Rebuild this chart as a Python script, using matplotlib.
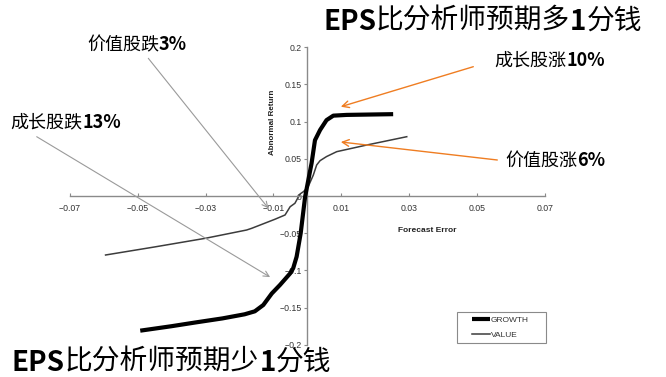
import matplotlib
matplotlib.use('Agg')
import matplotlib.pyplot as plt
from matplotlib.patches import Rectangle

# data
growth_x = [-0.0492, -0.040, -0.033, -0.025, -0.0185, -0.0155, -0.013, -0.0105,
            -0.0081, -0.0051, -0.0042, -0.0032, -0.002, -0.0007, 0.0001, 0.0012,
            0.0022, 0.0037, 0.0056, 0.0076, 0.0115, 0.0252]
growth_y = [-0.181, -0.175, -0.170, -0.1645, -0.159, -0.155, -0.1465, -0.131,
            -0.1196, -0.104, -0.097, -0.0816, -0.050, -0.001, 0.018, 0.044,
            0.075, 0.0887, 0.102, 0.108, 0.109, 0.110]
value_x = [-0.0594, -0.045, -0.0301, -0.0179, -0.0164, -0.0096, -0.0066, -0.0051,
           -0.0037, -0.0029, -0.0022, -0.0012, -0.0002, 0.0002, 0.0017, 0.0027,
           0.0037, 0.0056, 0.0086, 0.0174, 0.0292]
value_y = [-0.0793, -0.0685, -0.0569, -0.0457, -0.0434, -0.0313, -0.0255, -0.0144,
           -0.0098, -0.0031, 0.0027, 0.0058, 0.0103, 0.0125, 0.028, 0.0417,
           0.0475, 0.053, 0.0596, 0.0685, 0.0797]

xticks = [-0.07, -0.05, -0.03, -0.01, 0.01, 0.03, 0.05, 0.07]
xtick_labels = ['\u22120.07', '\u22120.05', '\u22120.03', '\u22120.01', '0.01', '0.03', '0.05', '0.07']
yticks = [-0.2, -0.15, -0.1, -0.05, 0, 0.05, 0.1, 0.15, 0.2]
ytick_labels = ['\u22120.2', '\u22120.15', '\u22120.1', '\u22120.05', '0', '0.05', '0.1', '0.15', '0.2']

CJK = ['Noto Sans CJK SC', 'DejaVu Sans']
W, H = 666, 377

fig = plt.figure(figsize=(6.66, 3.77), dpi=100)
ax = fig.add_axes([0.1044, 0.0854, 0.819 - 0.1044, 0.8748 - 0.0854])

ax.plot(growth_x, growth_y, color='black', lw=3, solid_capstyle='butt', label='GROWTH', zorder=3)
ax.plot(value_x, value_y, color='#3c3c3c', lw=1.1, label='VALUE', zorder=2)

ax.set_xlim(-0.07, 0.07)
ax.set_ylim(-0.2, 0.2)
for s in ['top', 'right']:
    ax.spines[s].set_visible(False)
for s in ['left', 'bottom']:
    ax.spines[s].set_position('zero')
    ax.spines[s].set_color('#8a8a8a')
    ax.spines[s].set_linewidth(1.0)
ax.set_xticks(xticks)
ax.set_xticklabels(xtick_labels)
ax.set_yticks(yticks)
ax.set_yticklabels(ytick_labels)
ax.tick_params(axis='x', direction='in', length=2, pad=6, labelsize=6.3, colors='#8a8a8a', labelcolor='#333333')
ax.tick_params(axis='y', direction='out', length=2, pad=2, labelsize=6.3, colors='#8a8a8a', labelcolor='#333333')
for t in ax.get_xticklabels() + ax.get_yticklabels():
    t.set_family('Liberation Sans')

fig.text(427 / W, 1 - 231 / H, 'Forecast Error', fontsize=6, weight='bold',
         family='Liberation Sans', ha='center', va='center', color='#222222')
fig.text(273 / W, 1 - 122.5 / H, 'Abnormal Return', fontsize=5.8, weight='bold',
         family='Liberation Sans', ha='center', va='center', rotation=90, color='#222222')

# legend with a hand-drawn frame
fig.patches.append(Rectangle((457 / W, 1 - 343.3 / H), 89 / W, 31.6 / H,
                             transform=fig.transFigure, fill=False,
                             edgecolor='#8a8a8a', lw=0.8))
leg = ax.legend(loc='center left', bbox_to_anchor=(471.7 / W, 1 - 327.5 / H),
                bbox_transform=fig.transFigure, frameon=False, borderpad=0,
                borderaxespad=0, handlelength=2.2, handletextpad=0.1,
                labelspacing=0.85, prop={'family': 'Liberation Sans', 'size': 6})
for t in leg.get_texts():
    t.set_color('#333333')


def chain(x, y, pieces, size):
    # pieces of (text, weight) set one after another on one line
    last = fig.text(x, y, pieces[0][0], fontsize=size, weight=pieces[0][1],
                    family=CJK, ha='left', va='center', color='black')
    for txt, wt in pieces[1:]:
        last = ax.annotate(txt, xy=(1, 0), xycoords=last, fontsize=size, weight=wt,
                           family=CJK, ha='left', va='bottom', color='black',
                           annotation_clip=False)


chain(323 / W, 1 - 21.7 / H, [('EPS', 'bold'), ('比分析师预期多', 'normal'), ('1', 'bold'), ('分钱', 'normal')], 20)
chain(12 / W, 1 - 363 / H, [('EPS', 'bold'), ('比分析师预期少', 'normal'), ('1', 'bold'), ('分钱', 'normal')], 20)
chain(87 / W, 1 - 45 / H, [('价值股跌', 'normal'), ('3%', 'bold')], 13)
chain(10 / W, 1 - 122.7 / H, [('成长股跌', 'normal'), ('13%', 'bold')], 13)
chain(494 / W, 1 - 60.7 / H, [('成长股涨', 'normal'), ('10%', 'bold')], 13)
chain(505 / W, 1 - 160.7 / H, [('价值股涨', 'normal'), ('6%', 'bold')], 13)

# arrows: tip in data units, tail in figure pixels
gray = dict(arrowstyle='->', color='#9a9a9a', lw=0.8, shrinkA=0, shrinkB=0, mutation_scale=10)
orange = dict(arrowstyle='->', color='#ef7d22', lw=1.0, shrinkA=0, shrinkB=0, mutation_scale=12)
ax.annotate('', xy=(-0.0115, -0.0165), xytext=(148.3 / W, 1 - 58.3 / H),
            textcoords='figure fraction', arrowprops=gray, annotation_clip=False)
ax.annotate('', xy=(-0.011, -0.109), xytext=(36.7 / W, 1 - 136.7 / H),
            textcoords='figure fraction', arrowprops=gray, annotation_clip=False)
ax.annotate('', xy=(0.0098, 0.12), xytext=(473.3 / W, 1 - 66.7 / H),
            textcoords='figure fraction', arrowprops=orange, annotation_clip=False)
ax.annotate('', xy=(0.0098, 0.0726), xytext=(497.3 / W, 1 - 160 / H),
            textcoords='figure fraction', arrowprops=orange, annotation_clip=False)

fig.savefig('out.png', dpi=100)
